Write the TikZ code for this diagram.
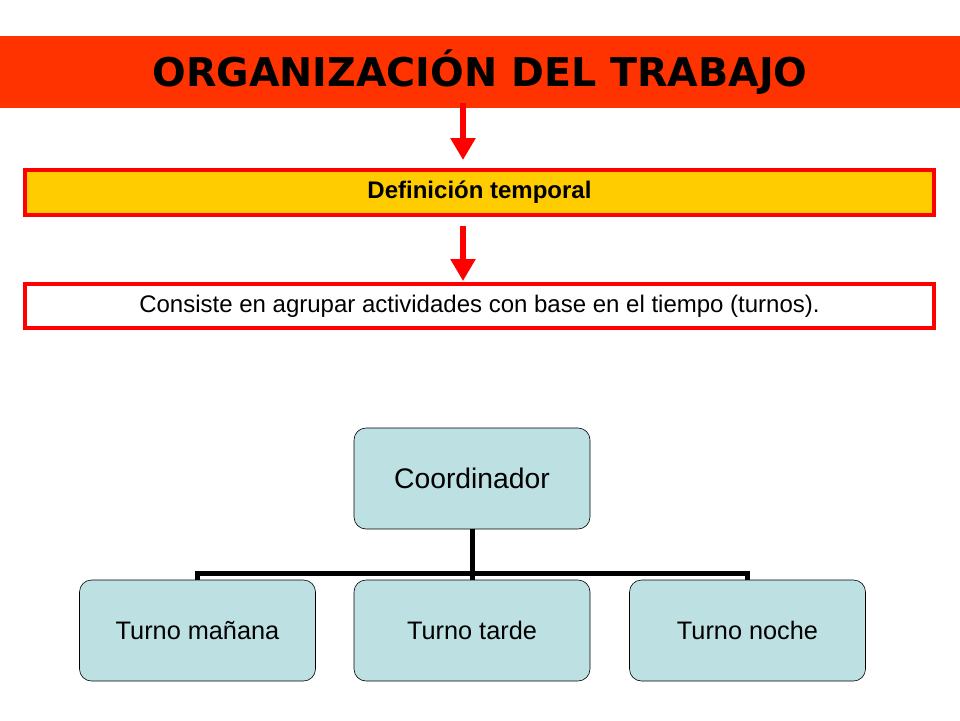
\documentclass[tikz,border=0pt]{standalone}
\usepackage{fontspec}
\setmainfont{Liberation Sans}
\newfontfamily\titlefont{DejaVu Sans}
\usetikzlibrary{arrows.meta}
\definecolor{titlered}{HTML}{FF3300}
\definecolor{boxred}{HTML}{FF0000}
\definecolor{boxyellow}{HTML}{FFCC00}
\definecolor{treeblue}{HTML}{BDE0E3}
\tikzset{
  redbox/.style={draw=boxred, line width=4pt, minimum width=909pt, inner sep=0pt},
  redarrow/.style={draw=boxred, line width=6pt, -{Triangle[width=24pt,length=22pt]}},
  orgbox/.style={draw=black, line width=0.6pt, fill=treeblue, rounded corners=12pt,
    minimum width=236pt, minimum height=101pt, inner sep=0pt},
  treeline/.style={draw=black, line width=5pt, line join=miter}
}
\begin{document}
\begin{tikzpicture}[x=1pt,y=-1pt]
\useasboundingbox[fill=white] (0,0) rectangle (960,720);
\node[fill=titlered, minimum width=960pt, minimum height=72pt, inner sep=0pt] (title) at (480,72)
  {\titlefont\bfseries\fontsize{39.6}{42}\selectfont ORGANIZACIÓN DEL TRABAJO};
\node[redbox, fill=boxyellow, minimum height=45pt] (def) at (479.5,192.5)
  {\bfseries\fontsize{24}{26}\selectfont Definición temporal};
\node[redbox, fill=white, minimum height=44pt] (cons) at (479.5,306)
  {\fontsize{24}{26}\selectfont Consiste en agrupar actividades con base en el tiempo (turnos).};
\draw[redarrow, shorten <=-5pt, shorten >=8pt] ([xshift=-17pt]title.south) -- ([xshift=-16.5pt]def.north);
\draw[redarrow, shorten <=9pt, shorten >=1pt] ([xshift=-16.5pt]def.south) -- ([xshift=-16.5pt]cons.north);
\node[orgbox] (coord) at (472,478.5) {\fontsize{28.3}{30}\selectfont Coordinador};
\node[orgbox] (c1) at (197.5,630.5) {\fontsize{25.3}{27}\selectfont Turno mañana};
\node[orgbox] (c2) at (472,630.5) {\fontsize{25.3}{27}\selectfont Turno tarde};
\node[orgbox] (c3) at (747.5,630.5) {\fontsize{25.3}{27}\selectfont Turno noche};
\coordinate (bus) at (0,573);
\draw[treeline] (coord.south) -- (c2.north);
\draw[treeline] (c1.north) -- (c1.north |- bus) -- (c3.north |- bus) -- (c3.north);
\end{tikzpicture}
\end{document}
